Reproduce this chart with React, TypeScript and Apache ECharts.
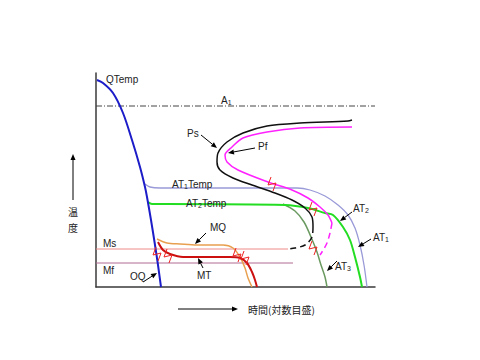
import React, { useEffect, useRef } from "react";
import * as echarts from "echarts";

// Schematic axes: x = log time (arbitrary units), y = temperature (arbitrary units)
const X_MAX = 279;
const Y_MAX = 214;
const A1_LEVEL = 181;
const MS_LEVEL = 38;
const MF_LEVEL = 24;
const MS_END = 192;
const MF_END = 197;

const qTemp: number[][] = [[1, 207], [7, 204], [17, 194], [27, 174], [36, 147], [44, 120], [49, 100], [51, 90], [55, 67], [59, 42], [62, 22], [65, 0]];
const at1: number[][] = [[49, 103], [54, 100], [64, 99], [201, 99], [214, 97], [229, 91], [242, 82], [252, 72], [259, 59], [264, 42], [268, 22], [271, 0]];
const at2: number[][] = [[52, 85], [56, 83], [70, 83], [189, 82], [212, 79], [229, 74], [237, 72], [247, 60], [254, 47], [259, 30], [264, 10], [266, 0]];
const at3: number[][] = [[187, 83], [199, 76], [208, 65], [215, 50], [221, 35], [225, 22], [229, 10], [231, 0]];
const psSolid: number[][] = [[256, 167], [252, 166], [204, 164], [171, 161], [147, 154], [131, 145], [122, 134], [121, 125], [124, 117], [137, 109], [156, 102], [179, 94], [196, 87], [209, 79], [216, 70], [217, 60]];
const psDashed: number[][] = [[217, 60], [216, 50], [209, 42], [199, 39], [192, 38]];
const pfSolid: number[][] = [[256, 160], [204, 159], [171, 155], [147, 149], [136, 140], [129, 132], [131, 125], [142, 117], [172, 105], [196, 97], [212, 89], [224, 80], [232, 72], [236, 64]];
const pfDashed: number[][] = [[236, 64], [234, 54], [231, 44], [226, 35], [224, 32]];
const mq: number[][] = [[61, 48], [71, 44], [84, 43], [101, 42], [127, 42], [137, 39], [144, 30], [149, 19], [152, 9], [156, 0]];
const mt: number[][] = [[62, 45], [67, 37], [74, 33], [87, 30], [111, 30], [134, 30], [144, 29], [151, 24], [156, 15], [159, 7], [161, 0]];
const breakMarks: number[][] = [[176, 103], [217, 78], [217, 39], [61, 33], [72, 31], [141, 32], [149, 29]];

const FONT = "Liberation Sans, Arial, sans-serif";

function arrow(x1: number, y1: number, x2: number, y2: number, head = 6): any[] {
  const a = Math.atan2(y2 - y1, x2 - x1);
  const hx = x2 - head * Math.cos(a);
  const hy = y2 - head * Math.sin(a);
  const w = head * 0.42;
  return [
    { type: "line", z: 50, shape: { x1, y1, x2: hx, y2: hy }, style: { stroke: "#000", lineWidth: 1 } },
    {
      type: "polygon",
      z: 50,
      shape: { points: [[x2, y2], [hx + w * Math.sin(a), hy - w * Math.cos(a)], [hx - w * Math.sin(a), hy + w * Math.cos(a)]] },
      style: { fill: "#000" },
    },
  ];
}

function label(x: number, y: number, text: string, rich = false): any {
  return {
    type: "text",
    x,
    y,
    z: 60,
    style: {
      text,
      fill: "#222",
      font: `10px ${FONT}`,
      fontFamily: FONT,
      fontSize: 10,
      verticalAlign: "middle",
      align: "left",
      rich: rich
        ? {
            a: { fontSize: 10, fontFamily: FONT, fill: "#222" },
            s: { fontSize: 7, fontFamily: FONT, fill: "#222", padding: [5, 0, 0, 0] },
          }
        : undefined,
    },
  };
}

function cjk(x: number, y: number, text: string, align: string): any {
  return {
    type: "text",
    x,
    y,
    z: 60,
    style: { text, fill: "#222", fontSize: 10, lineHeight: 11, fontFamily: "Noto Sans CJK JP", align, verticalAlign: "middle" },
  };
}

function line(data: number[][], color: string, width: number, z: number, dashed: any = "solid", smooth: number = 0.3): any {
  return {
    type: "line",
    data,
    showSymbol: false,
    symbol: "none",
    smooth,
    silent: true,
    z,
    lineStyle: { color, width, type: dashed },
  };
}

export default function App() {
  const ref = useRef<HTMLDivElement>(null);
  useEffect(() => {
    if (!ref.current) return;
    const chart = echarts.init(ref.current, null, { renderer: "svg" });
    const axisCommon = {
      type: "value" as const,
      axisLine: { show: true, lineStyle: { color: "#3a3a3a", width: 1.5 } },
      axisTick: { show: false },
      axisLabel: { show: false },
      splitLine: { show: false },
    };
    chart.setOption({
      animation: false,
      backgroundColor: "#fff",
      grid: { left: 96, top: 73, right: 105, bottom: 73, containLabel: false },
      xAxis: { ...axisCommon, min: 0, max: X_MAX },
      yAxis: { ...axisCommon, min: 0, max: Y_MAX },
      series: [
        line([[0, A1_LEVEL], [X_MAX, A1_LEVEL]], "#444", 1, 2, [6, 2, 1, 2], 0),
        line([[0, MS_LEVEL], [MS_END, MS_LEVEL]], "#f08a8a", 1, 3, "solid", 0),
        line([[0, MF_LEVEL], [MF_END, MF_LEVEL]], "#b06a90", 1, 3, "solid", 0),
        line(at1, "#9a9ad8", 1.3, 4),
        line(at3, "#6a9a60", 1.5, 5),
        line(at2, "#22dd22", 2, 6),
        line(psSolid, "#111", 1.5, 7),
        line(psDashed, "#111", 1.5, 7, [6, 4]),
        line(pfSolid, "#ff22ff", 1.5, 8),
        line(pfDashed, "#ff22ff", 1.5, 8, [6, 4]),
        line(mq, "#e8a050", 1.5, 9),
        line(mt, "#cc1010", 2, 10),
        line(qTemp, "#1c1cc8", 2, 11),
        {
          type: "custom",
          data: breakMarks,
          silent: true,
          z: 20,
          renderItem: (_p: any, api: any) => {
            const c = api.coord([api.value(0), api.value(1)]);
            return {
              type: "polyline",
              shape: { points: [[c[0] - 1, c[1] - 7], [c[0] - 4, c[1] + 1], [c[0] + 4, c[1] - 1], [c[0] + 1, c[1] + 7]] },
              style: { stroke: "#ee2222", lineWidth: 1, fill: "none" },
            };
          },
        },
      ],
      graphic: [
        label(106, 79, "QTemp"),
        label(221, 100, "{a|A}{s|1}", true),
        label(187, 133, "Ps"),
        label(258, 146, "Pf"),
        label(172, 184, "{a|AT}{s|1}{a|Temp}", true),
        label(186, 203, "{a|AT}{s|2}{a|Temp}", true),
        label(210, 227, "MQ"),
        label(197, 275, "MT"),
        label(130, 276, "OQ"),
        label(103, 243, "Ms"),
        label(103, 270, "Mf"),
        label(353, 208, "{a|AT}{s|2}", true),
        label(373, 237, "{a|AT}{s|1}", true),
        label(335, 266, "{a|AT}{s|3}", true),
        cjk(73, 211, "温", "center"),
        cjk(73, 227, "度", "center"),
        cjk(248, 309, "時間(対数目盛)", "left"),
        ...arrow(201, 135, 217, 148),
        ...arrow(255, 148, 228, 153),
        ...arrow(206, 233, 195, 244),
        ...arrow(203, 268, 198, 258),
        ...arrow(143, 282, 157, 273),
        ...arrow(352, 212, 340, 221),
        ...arrow(371, 239, 358, 247),
        ...arrow(337, 261, 327, 271),
        ...arrow(73, 200, 73, 154),
        ...arrow(178, 309, 238, 309),
      ],
    });
    return () => chart.dispose();
  }, []);
  return <div ref={ref} style={{ position: "fixed", left: 0, top: 0, width: 480, height: 360 }} />;
}
